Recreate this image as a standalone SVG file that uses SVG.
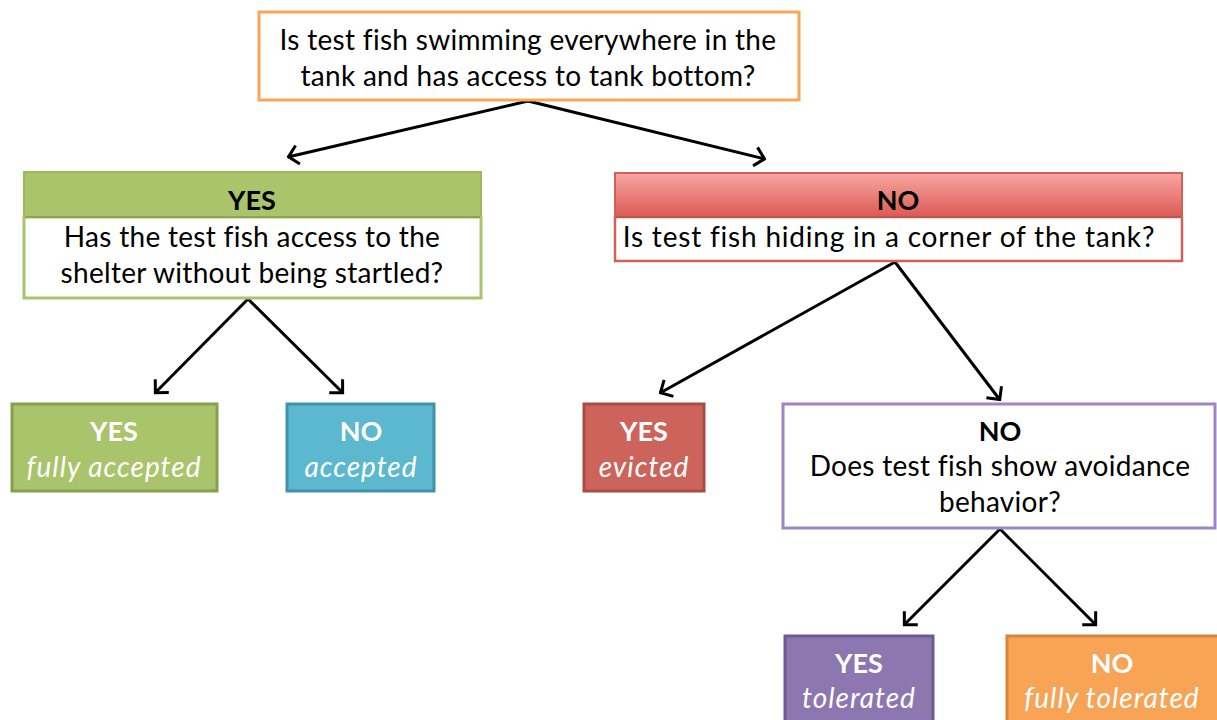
<svg xmlns="http://www.w3.org/2000/svg" width="1217" height="720" viewBox="0 0 1217 720">
<style>
text{font-family:Lato,"Open Sans","Liberation Sans",sans-serif;font-size:28px;letter-spacing:0.3px;text-anchor:middle}
.b{font-weight:bold;font-size:27px;letter-spacing:0}
.w{fill:#fff}
.i{font-style:italic;letter-spacing:1px}
.c{stroke:#000;stroke-width:3;fill:none;marker-end:url(#ah)}
</style>
<defs>
<marker id="ah" viewBox="0 0 13 22" refX="11.5" refY="11" markerWidth="13" markerHeight="22" orient="auto" markerUnits="userSpaceOnUse">
<path d="M1.5,1.5 L11,11 L1.5,20.5" fill="none" stroke="#000" stroke-width="3"/>
</marker>
<linearGradient id="rg" x1="0" y1="0" x2="0" y2="1">
<stop offset="0" stop-color="#F9A6A2"/>
<stop offset="1" stop-color="#DC5A54"/>
</linearGradient>
</defs>
<rect width="1217" height="720" fill="#fff"/>
<g id="connectors">
<line class="c" x1="528" y1="101" x2="288" y2="157"/>
<line class="c" x1="528" y1="101" x2="765" y2="159"/>
<line class="c" x1="248" y1="299" x2="155" y2="393"/>
<line class="c" x1="248" y1="299" x2="343" y2="393"/>
<line class="c" x1="895" y1="262" x2="660" y2="393"/>
<line class="c" x1="895" y1="262" x2="1000" y2="400"/>
<line class="c" x1="1000" y1="529" x2="904" y2="625"/>
<line class="c" x1="1000" y1="529" x2="1096" y2="625"/>
</g>
<g id="q1">
<rect x="259" y="12" width="540" height="88" fill="#fff" stroke="#F9A65A" stroke-width="3"/>
<text x="528" y="50">Is test fish swimming everywhere in the</text>
<text x="528" y="86">tank and has access to tank bottom?</text>
</g>
<g id="yes1">
<rect x="24" y="172" width="457" height="45" fill="#A9C46A" stroke="#9BB85A" stroke-width="2"/>
<rect x="24" y="217" width="457" height="81" fill="#fff" stroke="#A9C46A" stroke-width="3"/>
<line x1="25" y1="217" x2="480" y2="217" stroke="#8AA650" stroke-width="2"/>
<text class="b" x="252" y="210">YES</text>
<text x="252" y="247">Has the test fish access to the</text>
<text x="252" y="283">shelter without being startled?</text>
</g>
<g id="no1">
<rect x="615" y="173" width="567" height="44" fill="url(#rg)" stroke="#D0605A" stroke-width="2"/>
<rect x="615" y="217" width="567" height="44" fill="#fff" stroke="#D0605A" stroke-width="2.5"/>
<line x1="616" y1="217" x2="1181" y2="217" stroke="#B8504A" stroke-width="1.5"/>
<text class="b" x="898" y="210">NO</text>
<text x="889" y="247" style="letter-spacing:0.8px">Is test fish hiding in a corner of the tank?</text>
</g>
<g id="fully-accepted">
<rect x="12" y="404" width="205" height="87" fill="#A9C46A" stroke="#86A04E" stroke-width="3"/>
<text class="b w" x="114" y="441">YES</text>
<text class="i w" x="114" y="477">fully accepted</text>
</g>
<g id="accepted">
<rect x="287" y="404" width="147" height="87" fill="#5BB8CF" stroke="#3E93AB" stroke-width="3"/>
<text class="b w" x="361" y="441">NO</text>
<text class="i w" x="361" y="477">accepted</text>
</g>
<g id="evicted">
<rect x="584" y="404" width="120" height="87" fill="#CD645B" stroke="#A84D45" stroke-width="3"/>
<text class="b w" x="644" y="441">YES</text>
<text class="i w" x="644" y="477">evicted</text>
</g>
<g id="q3">
<rect x="783" y="404" width="432" height="124" fill="#fff" stroke="#9D86C1" stroke-width="3"/>
<text class="b" x="1000" y="441">NO</text>
<text x="1000" y="476">Does test fish show avoidance</text>
<text x="1000" y="512">behavior?</text>
</g>
<g id="tolerated">
<rect x="785" y="636" width="148" height="95" fill="#8C77B0" stroke="#6E5A92" stroke-width="3"/>
<text class="b w" x="859" y="673">YES</text>
<text class="i w" x="859" y="708">tolerated</text>
</g>
<g id="fully-tolerated">
<rect x="1007" y="636" width="215" height="95" fill="#F7A456" stroke="#D8853B" stroke-width="3"/>
<text class="b w" x="1112" y="673">NO</text>
<text class="i w" x="1112" y="708">fully tolerated</text>
</g>
</svg>
